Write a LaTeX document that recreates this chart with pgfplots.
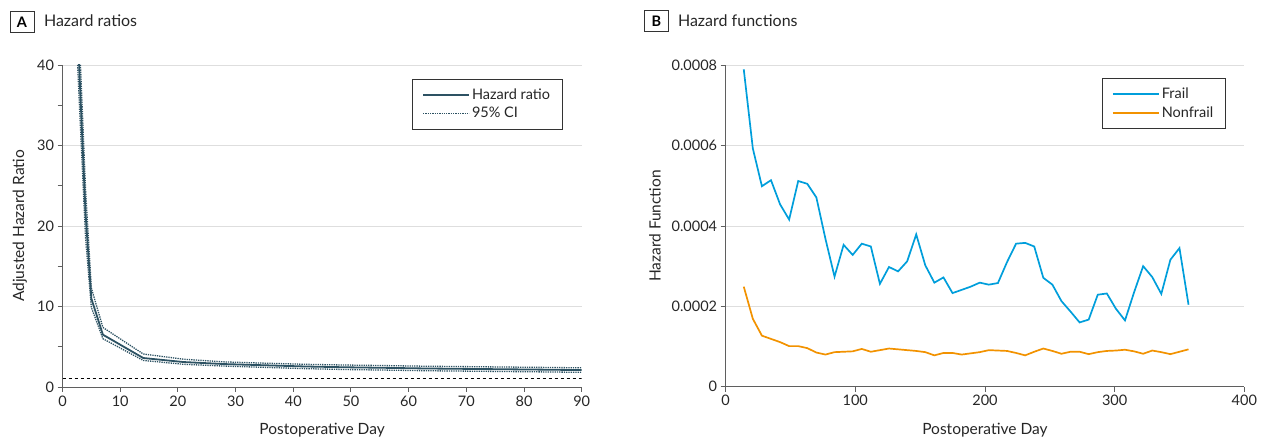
\documentclass[border=0pt]{standalone}
\usepackage{fontspec}
\setmainfont{Lato}
\usepackage{pgfplots}
\usepackage{pgfplotstable}
\pgfplotsset{compat=1.18}

\definecolor{hrline}{RGB}{45,82,99}
\definecolor{frailblue}{RGB}{0,158,219}
\definecolor{nonfrailorange}{RGB}{242,146,0}
\definecolor{gridgray}{RGB}{222,222,222}
\definecolor{axgray}{RGB}{95,95,95}

% hazard ratio with 95% CI
\pgfplotstableread{
day hr lo hi
2 55 50 60
3 38 34 42
4 21.5 18.5 24.5
5 11 9.9 12.3
7 6.5 6.0 7.4
14 3.6 3.3 4.1
21 3.1 2.82 3.45
28 2.85 2.6 3.12
35 2.7 2.44 2.96
42 2.55 2.28 2.82
49 2.45 2.17 2.73
56 2.38 2.1 2.66
63 2.3 2.02 2.58
70 2.25 1.97 2.53
77 2.2 1.92 2.48
84 2.15 1.87 2.43
90 2.1 1.82 2.38
}\hrtab

% hazard functions
\pgfplotstableread{
day frail nonfrail
14 7.90e-4 2.49e-4
21 5.93e-4 1.69e-4
28 4.99e-4 1.27e-4
35 5.14e-4 1.19e-4
42 4.54e-4 1.11e-4
49 4.16e-4 1.01e-4
56 5.12e-4 1.01e-4
63 5.05e-4 0.96e-4
70 4.71e-4 0.85e-4
77 3.68e-4 0.80e-4
84 2.74e-4 0.86e-4
91 3.53e-4 0.87e-4
98 3.28e-4 0.88e-4
105 3.56e-4 0.94e-4
112 3.49e-4 0.87e-4
119 2.56e-4 0.91e-4
126 2.98e-4 0.95e-4
133 2.87e-4 0.93e-4
140 3.12e-4 0.91e-4
147 3.79e-4 0.89e-4
154 3.02e-4 0.86e-4
161 2.59e-4 0.78e-4
168 2.72e-4 0.84e-4
175 2.33e-4 0.84e-4
182 2.41e-4 0.80e-4
189 2.49e-4 0.83e-4
196 2.59e-4 0.86e-4
203 2.54e-4 0.91e-4
210 2.58e-4 0.90e-4
217 3.10e-4 0.89e-4
224 3.56e-4 0.84e-4
231 3.58e-4 0.78e-4
238 3.49e-4 0.87e-4
245 2.71e-4 0.95e-4
252 2.54e-4 0.89e-4
259 2.13e-4 0.82e-4
266 1.87e-4 0.87e-4
273 1.60e-4 0.87e-4
280 1.67e-4 0.81e-4
287 2.29e-4 0.86e-4
294 2.32e-4 0.89e-4
301 1.94e-4 0.90e-4
308 1.65e-4 0.92e-4
315 2.35e-4 0.88e-4
322 3.00e-4 0.82e-4
329 2.73e-4 0.90e-4
336 2.31e-4 0.86e-4
343 3.16e-4 0.81e-4
350 3.45e-4 0.87e-4
357 2.04e-4 0.93e-4
}\hftab

\pgfplotsset{
  panel/.style={
    scale only axis,
    axis x line=bottom, axis y line=left,
    axis line style={-, axgray, line width=0.9pt},
    tick style={axgray, line width=0.9pt},
    tick align=outside,
    major tick length=5pt, minor tick length=5pt,
    ymajorgrids, grid style={gridgray, line width=0.9pt},
    ticklabel style={font=\fontsize{14.5}{16}\selectfont, text=black!85},
    /pgf/number format/assume math mode=true,
    label style={font=\fontsize{15.5}{18}\selectfont, text=black!85},
    legend style={draw=black!80, line width=0.8pt,
      font=\fontsize{14.5}{17}\selectfont, text=black!85,
      inner xsep=10pt, inner ysep=7.5pt, row sep=2.5pt,
      anchor=north east, cells={anchor=west}},
    legend image code/.code={\draw[##1] (0pt,0pt) -- (46pt,0pt);},
  }
}

\begin{document}
\begin{tikzpicture}
\path[use as bounding box] (0pt,0pt) rectangle (1264pt,439pt);

% panel A
\node[draw=black!80, line width=0.8pt, minimum width=24pt, minimum height=21pt,
  inner sep=0pt, font=\bfseries\fontsize{14.5}{16}\selectfont] at (22pt,417pt) {A};
\node[anchor=west, font=\fontsize{16}{19}\selectfont, text=black!85] at (40.5pt,418pt) {Hazard ratios};

\begin{axis}[panel,
  at={(62.5pt,52pt)}, anchor=south west,
  width=519.2pt, height=322pt,
  xmin=0, xmax=90, ymin=0, ymax=40,
  xtick={0,10,...,90}, ytick={0,10,...,40}, minor y tick num=1,
  xlabel={Postoperative Day}, ylabel={Adjusted Hazard Ratio},
  xlabel style={at={(axis description cs:0.5,-0.134)}, anchor=center},
  ylabel style={at={(axis description cs:-0.082,0.5)}, anchor=center},
  legend style={at={(0.963,0.957)}},
]
\addplot[hrline, line width=1.8pt] table[x=day, y=hr] {\hrtab};
\addlegendentry{Hazard ratio}
\addplot[hrline, line width=1.3pt, densely dotted] table[x=day, y=lo] {\hrtab};
\addlegendentry{95\% CI}
\addplot[hrline, line width=1.3pt, densely dotted, forget plot] table[x=day, y=hi] {\hrtab};
\addplot[black, line width=0.9pt, dashed, forget plot] coordinates {(0,1) (90,1)};
\end{axis}

% panel B
\node[draw=black!80, line width=0.8pt, minimum width=24pt, minimum height=21pt,
  inner sep=0pt, font=\bfseries\fontsize{14.5}{16}\selectfont] at (656.5pt,417.8pt) {B};
\node[anchor=west, font=\fontsize{16}{19}\selectfont, text=black!85] at (674.5pt,418pt) {Hazard functions};

\begin{axis}[panel,
  at={(725.6pt,52.3pt)}, anchor=south west,
  width=518.7pt, height=321.4pt,
  xmin=0, xmax=400, ymin=0, ymax=0.0008,
  xtick={0,100,...,400}, ytick={0,0.0002,0.0004,0.0006,0.0008},
  yticklabels={0,0.0002,0.0004,0.0006,0.0008},
  scaled y ticks=false,
  xlabel={Postoperative Day}, ylabel={Hazard Function},
  xlabel style={at={(axis description cs:0.5,-0.134)}, anchor=center},
  ylabel style={at={(axis description cs:-0.136,0.5)}, anchor=center},
  legend style={at={(0.964,0.96)}},
]
\addplot[color=frailblue, line width=1.7pt] table[x=day, y=frail] {\hftab};
\addlegendentry{Frail}
\addplot[color=nonfrailorange, line width=1.7pt] table[x=day, y=nonfrail] {\hftab};
\addlegendentry{Nonfrail}
\end{axis}
\end{tikzpicture}
\end{document}
